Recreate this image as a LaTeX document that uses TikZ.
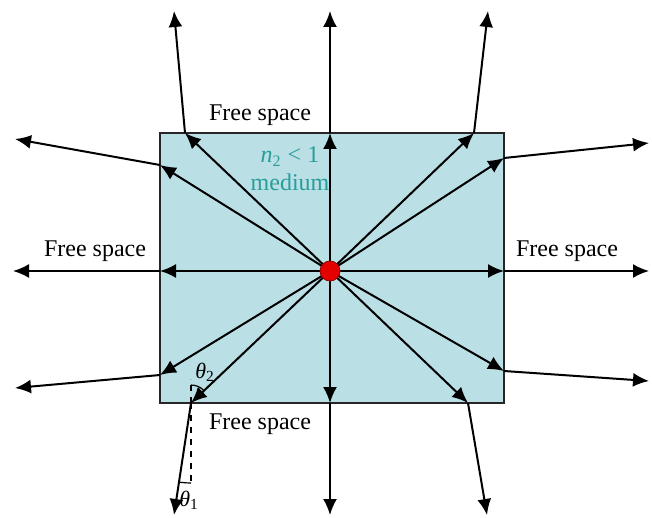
\documentclass[tikz,border=0pt]{standalone}
\usepackage{fontspec}
\setmainfont{Liberation Serif}
\usetikzlibrary{arrows.meta}
\definecolor{mediumblue}{RGB}{186,223,229}
\definecolor{mediumtext}{RGB}{40,158,156}
\tikzset{
  ray/.style={line width=1pt, -{Latex[length=8pt,width=7pt]}},
  lbl/.style={font=\fontsize{12}{14}\selectfont},
  ang/.style={line width=0.6pt},
}
\begin{document}
\begin{tikzpicture}[x=0.5pt,y=-0.5pt]
\useasboundingbox (0,0) rectangle (652,518);
\filldraw[fill=mediumblue, draw=black!85, line width=0.8pt] (160,133) rectangle (504,403);
\coordinate (o) at (330,271);
\coordinate (t) at (330,133);
\coordinate (b) at (330,403);
\coordinate (l) at (160,271);
\coordinate (r) at (504,271);
\coordinate (tl) at (185,133);
\coordinate (lt) at (160,165);
\coordinate (tr) at (474,133);
\coordinate (rt) at (504,158);
\coordinate (lb) at (160,375);
\coordinate (bl) at (191,403);
\coordinate (rb) at (504,371);
\coordinate (br) at (468,403);
\coordinate (T) at (330,11);
\coordinate (B) at (330,515);
\coordinate (L) at (13,271);
\coordinate (R) at (649,271);
\coordinate (TL) at (174,11);
\coordinate (LT) at (15,139);
\coordinate (TR) at (488,11);
\coordinate (RT) at (649,143);
\coordinate (LB) at (15,388);
\coordinate (BL) at (174,515);
\coordinate (RB) at (649,381);
\coordinate (BR) at (487,515);
\coordinate (n1) at (191,482);
\draw[ray] (o) -- (t);
\draw[ray] (o) -- (b);
\draw[ray] (o) -- (l);
\draw[ray] (o) -- (r);
\draw[ray] (o) -- (tl);
\draw[ray] (o) -- (lt);
\draw[ray] (o) -- (tr);
\draw[ray] (o) -- (rt);
\draw[ray] (o) -- (lb);
\draw[ray] (o) -- (bl);
\draw[ray] (o) -- (rb);
\draw[ray] (o) -- (br);
\draw[ray] (t) -- (T);
\draw[ray] (b) -- (B);
\draw[ray] (l) -- (L);
\draw[ray] (r) -- (R);
\draw[ray] (tl) -- (TL);
\draw[ray] (lt) -- (LT);
\draw[ray] (tr) -- (TR);
\draw[ray] (rt) -- (RT);
\draw[ray] (lb) -- (LB);
\draw[ray] (bl) -- (BL);
\draw[ray] (rb) -- (RB);
\draw[ray] (br) -- (BR);
\draw[ang, dashed] (bl) -- ++(0,-24);
\draw[ang, dashed, line width=1pt] (bl) -- (n1);
\draw[ang] ([shift={(-90:18)}]bl) arc[start angle=-90, end angle=-44, radius=18];
\draw[ang] ([shift={(90:80)}]bl) arc[start angle=90, end angle=98, radius=80];
\node[circle, fill=red!90!black, draw=red!55!black, line width=0.4pt, inner sep=0pt, minimum size=10pt] (src) at (o) {};
\node[lbl] (fsT) at (260,115) {Free space};
\node[lbl] (fsL) at (95,251) {Free space};
\node[lbl] (fsR) at (567,251) {Free space};
\node[lbl] (fsB) at (260,424) {Free space};
\node[lbl, text=mediumtext, align=center] (med) at (290,169) {\textit{n}\textsubscript{2} < 1\\medium};
\node[font=\fontsize{11}{13}\selectfont] (th2) at (205,372) {\textit{θ}\textsubscript{2}};
\node[font=\fontsize{11}{13}\selectfont] (th1) at (189,500) {\textit{θ}\textsubscript{1}};
\end{tikzpicture}
\end{document}
